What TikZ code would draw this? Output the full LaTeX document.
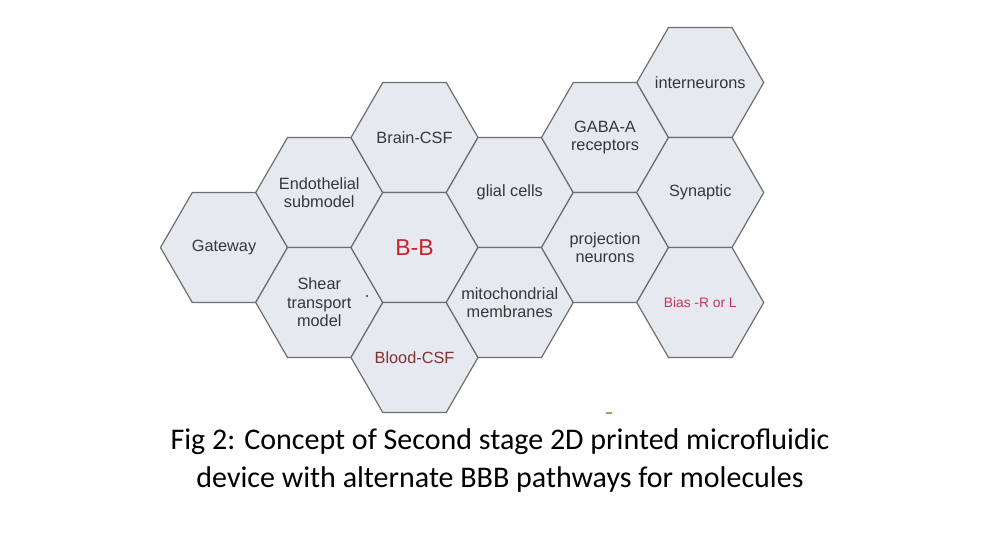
\documentclass[tikz,border=0pt]{standalone}
\usepackage{fontspec}
\setmainfont{Liberation Sans}
\newfontfamily\capfont{Carlito}
\usepackage{xcolor}
\usepackage{tikz}
\usetikzlibrary{shapes.geometric}
\definecolor{hexfill}{RGB}{231,233,241}
\definecolor{hexline}{RGB}{110,110,110}
\definecolor{hextext}{RGB}{55,55,55}
\definecolor{bbred}{RGB}{200,35,42}
\definecolor{csfred}{RGB}{130,48,48}
\definecolor{biasred}{RGB}{195,55,85}
\definecolor{specgreen}{RGB}{120,185,90}
\tikzset{
  hexcell/.style={regular polygon, regular polygon sides=6, minimum size=127pt,
    inner sep=0pt, draw=hexline, fill=hexfill, line width=1.2pt},
  every label/.style={text=hextext, font=\fontsize{16.3}{18.5}\selectfont, align=center},
  bbtext/.style={text=bbred, font=\fontsize{23}{26}\selectfont},
  csftext/.style={text=csfred},
  biastext/.style={text=biasred, font=\fontsize{13.8}{16}\selectfont},
}

\begin{document}
\begin{tikzpicture}[x=1pt, y=-1pt]
    \useasboundingbox (0,0) rectangle (1000,557);
    % column 0
    \node[hexcell, label={center:Gateway}] (gateway) at (224,247.5) {};
    % column 1
    \node[hexcell, label={center:Endothelial\\submodel}] (endo) at (319.25,192.5) {};
    \node[hexcell, label={center:Shear\\transport\\model}] (shear) at (319.25,302.5) {};
    % column 2
    \node[hexcell, label={center:Brain-CSF}] (braincsf) at (414.5,137.5) {};
    \node[hexcell, label={[bbtext]center:B-B}] (bb) at (414.5,247.5) {};
    \node[hexcell, label={[csftext]center:Blood-CSF}] (bloodcsf) at (414.5,357.5) {};
    % column 3
    \node[hexcell, label={center:glial cells}] (glial) at (509.75,192.5) {};
    \node[hexcell, label={center:mitochondrial\\membranes}] (mito) at (509.75,302.5) {};
    % column 4
    \node[hexcell, label={center:GABA-A\\receptors}] (gaba) at (605,137.5) {};
    \node[hexcell, label={center:projection\\neurons}] (proj) at (605,247.5) {};
    % column 5
    \node[hexcell, label={center:interneurons}] (inter) at (700.25,82.5) {};
    \node[hexcell, label={center:Synaptic}] (synaptic) at (700.25,192.5) {};
    \node[hexcell, label={[biastext]center:Bias -R or L}] (bias) at (700.25,302.5) {};
    % specks
    \fill[hextext] (367,296) circle (1.2);
    \draw[specgreen, line width=1.5pt] (606,413) -- (612,413);
    % caption
    \node[font=\capfont\fontsize{30}{38}\selectfont, align=center] (caption) at (500,460)
      {Fig 2: Concept of Second stage 2D printed microfluidic\\device with alternate BBB pathways for molecules};
\end{tikzpicture}
\end{document}
